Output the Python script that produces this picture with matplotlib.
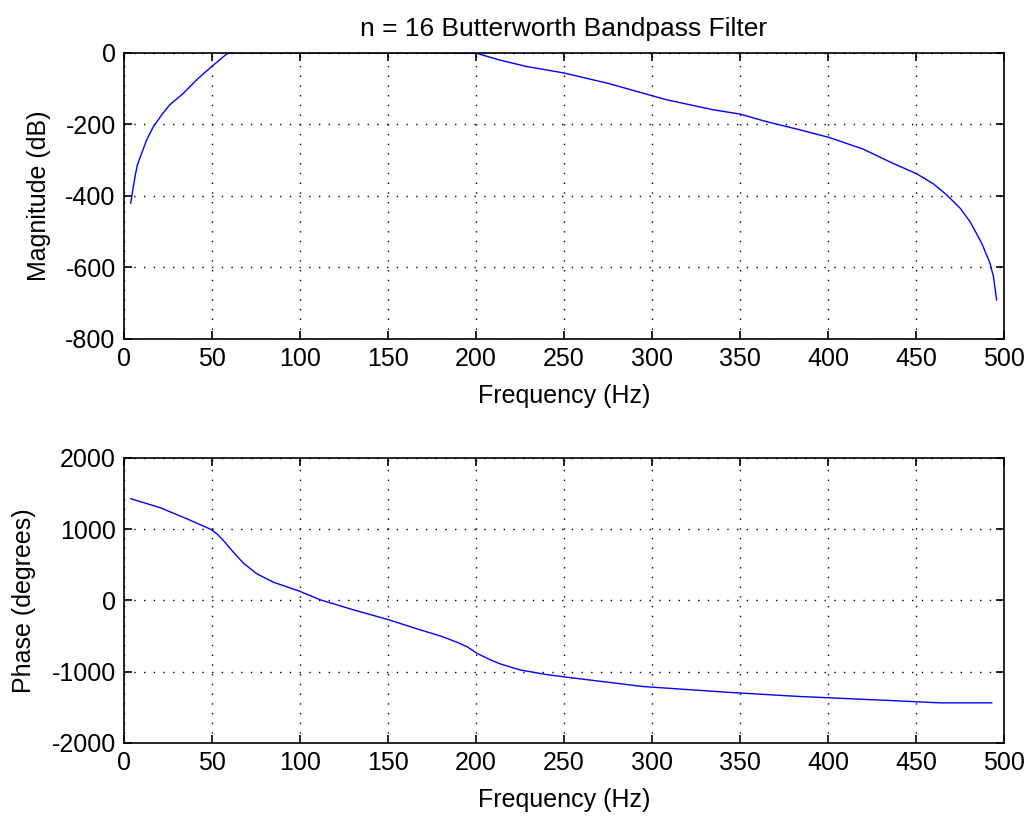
import numpy as np
import matplotlib
matplotlib.use("Agg")
import matplotlib.pyplot as plt

plt.rcParams['font.family'] = ['Liberation Sans', 'DejaVu Sans']
plt.rcParams['axes.unicode_minus'] = False

# magnitude response (dB) of the n = 16 bandpass design
freq_mag = [3.8, 5.3, 6.6, 7.6, 10, 12.9, 16.7, 19.5, 21.4, 26, 33.7, 41.3, 49.8, 58.3, 60,
            100, 150, 200.4, 213.6, 228.8, 250, 275, 308.3, 334.8, 350, 365, 384, 400.4,
            420, 437, 450.4, 459.8, 467.4, 475, 480.7, 487.3, 492, 494, 495.8]
mag_db = [-420, -374, -337, -313, -281, -243, -206, -187, -173, -145, -113, -75, -38, -3, 0,
          0, 0, -1, -20, -38, -56, -85, -131, -159, -171, -192, -215, -236,
          -269, -309, -338, -366, -397, -434, -472, -532, -588, -626, -691]

# phase response (degrees)
freq_ph = [3.8, 20.5, 35.6, 49.8, 53, 56.4, 62.1, 67.8, 75.4, 84.8, 99.6, 111.4, 130.3, 150.4,
           168.2, 180, 189, 195, 200.4, 207, 213.6, 225, 240, 251.5, 295, 342.4, 384, 435,
           463.6, 493]
phase_deg = [1428, 1302, 1147, 993, 930, 843, 679, 524, 375, 257, 131, 10, -131, -271,
             -412, -500, -585, -650, -740, -820, -889, -975, -1040, -1077, -1208, -1288,
             -1348, -1404, -1437, -1437]

x_ticks = np.arange(0, 501, 50)
fs = 18

fig = plt.figure(figsize=(10.3, 8.16), dpi=100)
ax1 = fig.add_axes([0.1204, 0.5846, 0.8544, 0.3505])
ax2 = fig.add_axes([0.1204, 0.0895, 0.8544, 0.3493])

def style(ax):
    ax.set_xlim(0, 500)
    ax.set_xticks(x_ticks)
    ax.tick_params(direction='in', length=6, width=1.2, top=True, right=True,
                   labelsize=fs, pad=6, colors='black')
    ax.grid(True, color='black', linestyle=(0, (1, 6)), linewidth=1.0)
    for s in ax.spines.values():
        s.set_linewidth(1.2)
    ax.set_xlabel('Frequency (Hz)', fontsize=fs, labelpad=9)

ax1.plot(freq_mag, mag_db, color='#0000ff', linewidth=1.0)
ax1.set_ylim(-800, 0)
ax1.set_yticks(np.arange(-800, 1, 200))
ax1.set_ylabel('Magnitude (dB)', fontsize=fs, labelpad=10)
ax1.set_title('n = 16 Butterworth Bandpass Filter', fontsize=19, pad=12)
style(ax1)

ax2.plot(freq_ph, phase_deg, color='#0000ff', linewidth=1.0)
ax2.set_ylim(-2000, 2000)
ax2.set_yticks(np.arange(-2000, 2001, 1000))
ax2.set_ylabel('Phase (degrees)', fontsize=fs, labelpad=11)
style(ax2)

fig.savefig('out.png', dpi=100)
